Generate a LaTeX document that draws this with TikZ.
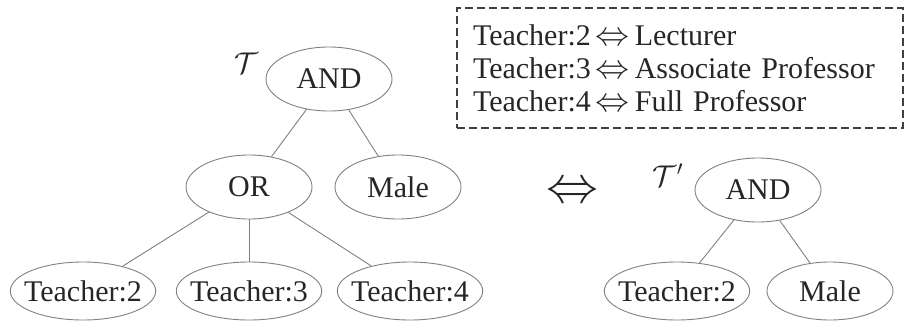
\RequirePackage{fix-cm}
\documentclass[tikz,border=0pt]{standalone}
\usepackage{fontspec}
\setmainfont{Liberation Serif}
\newfontfamily\timesfont{Liberation Serif}
\usetikzlibrary{shapes,positioning}

\newcommand{\iffsym}{{\fontsize{34}{34}\selectfont$\Leftrightarrow$}}

\begin{document}
\begin{tikzpicture}[x=1pt,y=-1pt,on grid,text=black!85,
		font=\timesfont\fontsize{30}{33}\selectfont,
		op/.style={ellipse,draw=black!50,line width=0.9pt,minimum width=126pt,minimum height=64pt,inner sep=0pt},
		leaf/.style={ellipse,draw=black!50,line width=0.9pt,minimum width=126pt,minimum height=58pt,inner xsep=-7.5pt,inner ysep=0pt},
		edge/.style={draw=black!50,line width=0.9pt}]
		\useasboundingbox (0,0) rectangle (905,322);

		% left tree
		\node[op] (and1) at (329,79) {AND};
		\node[above left=16pt and 83pt of and1] (tname) {$\mathcal{T}$};
		\node[op,below left=108pt and 80pt of and1] (or1) {OR};
		\node[op,below right=108pt and 69pt of and1] (male1) {Male};
		\node[leaf,below left=104pt and 166pt of or1] (t2) {Teacher:2};
		\node[leaf,below=104pt of or1] (t3) {Teacher:3};
		\node[leaf,below right=104pt and 161pt of or1] (t4) {Teacher:4};

		\draw[edge] (and1) -- (or1);
		\draw[edge] (and1) -- (male1);
		\draw[edge] (or1) -- (t2);
		\draw[edge] (or1) -- (t3);
		\draw[edge] (or1) -- (t4);

		\node[font=\fontsize{52}{52}\selectfont] (iff) at (572,193) {$\Leftrightarrow$};

		% right tree
		\node[op] (and2) at (758,190) {AND};
		\node[above left=15pt and 90pt of and2] (tname2) {$\mathcal{T}'$};
		\node[leaf,below left=101pt and 81pt of and2] (t2b) {Teacher:2};
		\node[leaf,below right=101pt and 72pt of and2] (male2) {Male};

		\draw[edge] (and2) -- (t2b);
		\draw[edge] (and2) -- (male2);

		% legend
		\node[draw=black!75,line width=1.2pt,dash pattern=on 8pt off 4pt,align=left,text width=414pt,inner xsep=16pt,minimum height=120pt] (legend) at (680,68)
		{Teacher:2\,\iffsym\,Lecturer\\
		 Teacher:3\,\iffsym\,Associate Professor\\
		 Teacher:4\,\iffsym\,Full Professor};
	\end{tikzpicture}
\end{document}
